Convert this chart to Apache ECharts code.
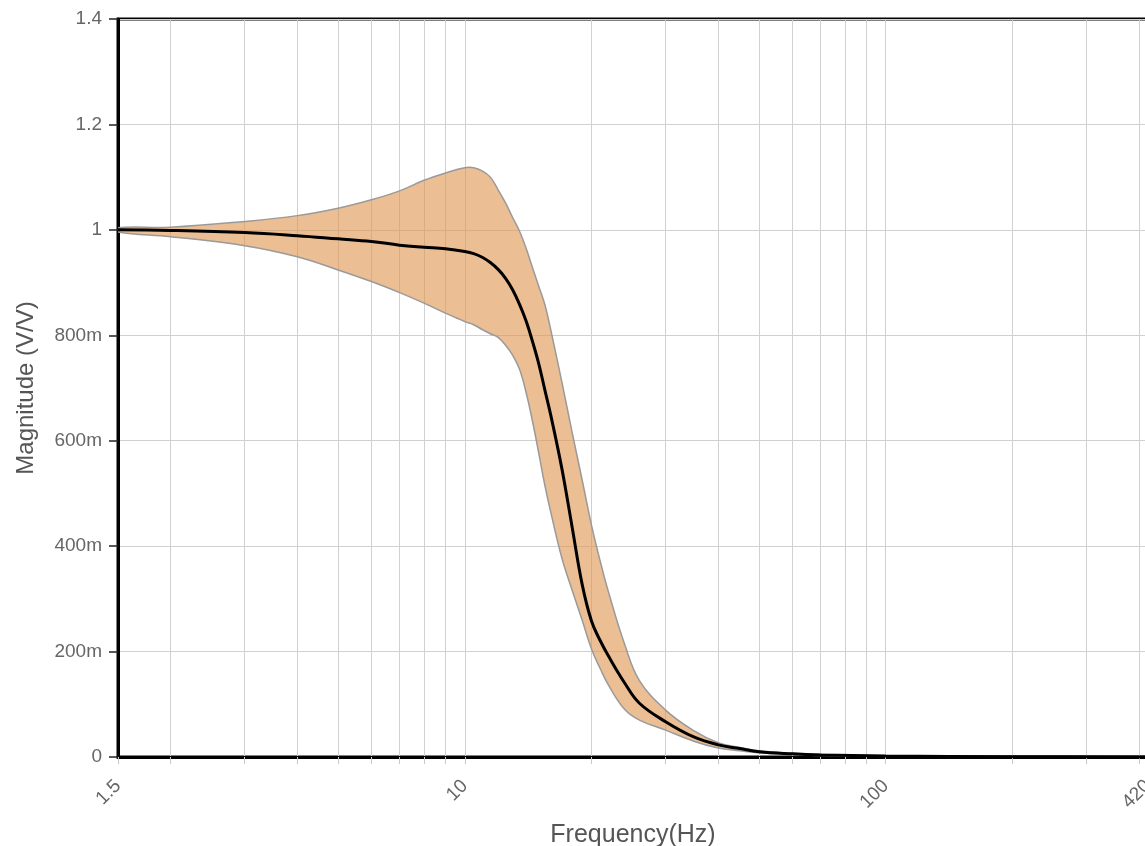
<!DOCTYPE html>
<html><head><meta charset="utf-8">
<script src="https://cdn.jsdelivr.net/npm/echarts@6/dist/echarts.min.js"></script>
<style>html,body{margin:0;padding:0;background:#fff}#c{width:1145px;height:846px}</style>
</head><body><div id="c"></div>
<script>
// Frequencies (Hz) shared by all curves
const freq   = [1.5, 2, 3, 4, 5, 6, 7, 8, 9, 10, 10.5, 11, 11.5, 12, 12.5, 13, 13.5, 14, 14.5, 15, 15.5, 16, 17, 18, 19, 20, 21, 22, 24, 26, 30, 35, 40, 45, 50, 60, 70, 100, 200, 420];
// Nominal magnitude (V/V)
const center = [1.000, 0.999, 0.995, 0.989, 0.983, 0.978, 0.971, 0.967, 0.964, 0.959, 0.955, 0.948, 0.938, 0.925, 0.908, 0.886, 0.858, 0.826, 0.787, 0.745, 0.696, 0.649, 0.548, 0.435, 0.328, 0.258, 0.220, 0.190, 0.140, 0.102, 0.067, 0.038, 0.023, 0.016, 0.010, 0.006, 0.004, 0.002, 0.0005, 0.0001];
// Upper envelope
const upper  = [1.004, 1.005, 1.016, 1.027, 1.041, 1.057, 1.074, 1.094, 1.108, 1.118, 1.118, 1.112, 1.100, 1.076, 1.051, 1.023, 0.997, 0.964, 0.927, 0.892, 0.858, 0.811, 0.712, 0.615, 0.526, 0.440, 0.370, 0.310, 0.213, 0.145, 0.089, 0.050, 0.027, 0.018, 0.012, 0.007, 0.005, 0.002, 0.0006, 0.0002];
// Lower envelope
const lower  = [0.996, 0.987, 0.970, 0.949, 0.924, 0.902, 0.881, 0.861, 0.842, 0.826, 0.820, 0.811, 0.803, 0.796, 0.781, 0.762, 0.735, 0.690, 0.635, 0.575, 0.515, 0.465, 0.378, 0.316, 0.260, 0.205, 0.167, 0.135, 0.090, 0.070, 0.051, 0.030, 0.017, 0.012, 0.008, 0.005, 0.003, 0.001, 0.0004, 0.0001];
// Axis ticks
const xGridValues  = [1.5, 2, 3, 4, 5, 6, 7, 8, 9, 10, 20, 30, 40, 50, 60, 70, 80, 90, 100, 200, 300, 400, 420];
const xLabelValues = [1.5, 10, 100, 420];
const yMin = 0, yMax = 1.4, yStep = 0.2;

const chart = echarts.init(document.getElementById('c'), null, {renderer: 'canvas'});
const FONT = '"Liberation Sans", Arial, sans-serif';
chart.setOption({
  animation: false,
  backgroundColor: '#fff',
  grid: {left: 118, top: 19, width: 1030, bottom: 89, outerBoundsMode: 'none', containLabel: false,
         show: true, borderColor: '#000', borderWidth: 3, backgroundColor: 'transparent'},
  xAxis: {
    type: 'log', min: 1.5, max: 420, logBase: 10,
    name: 'Frequency(Hz)', nameLocation: 'middle', nameGap: 66,
    nameTextStyle: {fontFamily: FONT, fontSize: 25, color: '#555'},
    axisLine: {show: true, lineStyle: {color: '#000', width: 3}},
    axisTick: {show: true, customValues: xGridValues, length: 7, lineStyle: {color: '#c8c8c8', width: 1}},
    splitLine: {show: true, lineStyle: {color: '#d0d0d0', width: 1}},
    axisLabel: {customValues: xLabelValues, rotate: 45, margin: 26, fontFamily: FONT, fontSize: 19, color: '#666',
      hideOverlap: false, formatter: v => String(+(+v).toPrecision(6))}
  },
  yAxis: {
    type: 'value', min: yMin, max: yMax, interval: yStep,
    name: 'Magnitude (V/V)', nameLocation: 'middle', nameGap: 80,
    nameTextStyle: {fontFamily: FONT, fontSize: 24, color: '#555'},
    axisLine: {show: true, lineStyle: {color: '#000', width: 3}},
    axisTick: {show: true, length: 9, lineStyle: {color: '#222', width: 1.5}},
    splitLine: {show: true, lineStyle: {color: '#d0d0d0', width: 1}},
    axisLabel: {margin: 16, fontFamily: FONT, fontSize: 19, color: '#666',
      formatter: v => { v = +v.toFixed(3); if (v === 0) return '0'; if (v >= 1) return String(v); return Math.round(v * 1000) + 'm'; }}
  },
  series: [
    {type: 'custom', name: 'band', coordinateSystem: 'cartesian2d', silent: true, clip: true, z: 2,
     data: freq.map((f, i) => [f, lower[i], upper[i]]),
     encode: {x: 0, y: [1, 2]},
     renderItem: (params, api) => {
       if (params.dataIndex !== 0) return null;
       const up = freq.map((f, i) => api.coord([f, upper[i]]));
       const lo = freq.map((f, i) => api.coord([f, lower[i]])).reverse();
       return {type: 'polygon', shape: {points: up.concat(lo), smooth: 0.4},
               style: {fill: 'rgba(222,150,83,0.62)', stroke: '#9a9a9a', lineWidth: 1.5}};
     }},
    {type: 'line', name: 'nominal', data: freq.map((f, i) => [f, center[i]]), symbol: 'none', smooth: 0.4,
     lineStyle: {color: '#000', width: 3}, z: 3}
  ]
});
</script>
</body></html>
